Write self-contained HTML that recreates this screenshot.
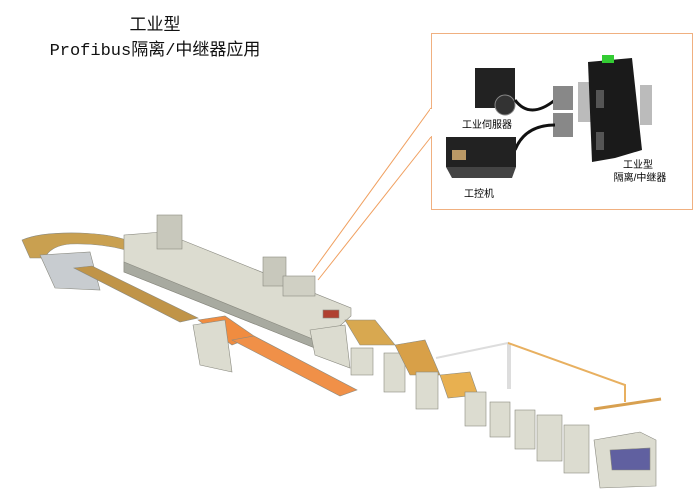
<!DOCTYPE html>
<html><head><meta charset="utf-8"><style>
body{margin:0;background:#fff;width:700px;height:495px;overflow:hidden;font-family:"Liberation Sans","Noto Sans CJK SC",sans-serif}
.t{position:absolute;font-size:17px;color:#111;text-align:center;font-family:"Liberation Mono","Noto Sans CJK SC",monospace}
</style></head><body>
<div class="t" style="left:95px;top:10px;width:120px;">工业型</div>
<div class="t" style="left:20px;top:35px;width:270px;">Profibus隔离/中继器应用</div>
<svg width="700" height="495" style="position:absolute;left:0;top:0">
<rect x="431.5" y="33.5" width="261" height="176" fill="none" stroke="#f0b080"/>
<line x1="431" y1="108" x2="312" y2="272" stroke="#f0a060"/>
<line x1="431" y1="137" x2="318" y2="280" stroke="#f0a060"/>
<rect x="430" y="109" width="3" height="27" fill="#fff"/>
<!-- inset devices -->
<rect x="578" y="82" width="14" height="40" fill="#bbb"/>
<rect x="640" y="85" width="12" height="40" fill="#bbb"/>
<polygon points="588,62 632,58 642,150 615,158 592,162" fill="#1a1a1a"/>
<rect x="602" y="55" width="12" height="8" fill="#3c3"/>
<rect x="596" y="90" width="8" height="18" fill="#555"/>
<rect x="596" y="132" width="8" height="18" fill="#555"/>
<rect x="475" y="68" width="40" height="40" fill="#222"/>
<circle cx="505" cy="105" r="10" fill="#333" stroke="#888"/>
<path d="M515,100 Q530,120 555,100" stroke="#111" stroke-width="3" fill="none"/>
<rect x="553" y="86" width="20" height="24" fill="#888"/>
<rect x="553" y="113" width="20" height="24" fill="#888"/>
<path d="M515,150 Q525,125 555,125" stroke="#111" stroke-width="3" fill="none"/>
<rect x="446" y="137" width="70" height="30" fill="#222"/>
<rect x="452" y="150" width="14" height="10" fill="#b96"/>
<polygon points="446,167 516,167 512,178 452,178" fill="#444"/>
<text x="487" y="128" font-size="10" text-anchor="middle" font-family="Liberation Sans,Noto Sans CJK SC,sans-serif">工业伺服器</text>
<text x="479" y="197" font-size="10" text-anchor="middle" font-family="Liberation Sans,Noto Sans CJK SC,sans-serif">工控机</text>
<text x="638" y="168" font-size="10" text-anchor="middle" font-family="Liberation Sans,Noto Sans CJK SC,sans-serif">工业型</text>
<text x="640" y="181" font-size="10" text-anchor="middle" font-family="Liberation Sans,Noto Sans CJK SC,sans-serif">隔离/中继器</text>
<!-- production line -->
<g stroke="#8a8a80" stroke-width="0.6" fill="#dcdcd0">
<path d="M22,240 Q40,232 80,233 Q110,234 126,240 L126,250 Q100,243 70,244 Q50,246 45,258 L30,258 Z" fill="#c9a050"/>
<polygon points="40,255 90,252 100,290 55,288" fill="#c8ccd0"/>
<polygon points="74,268 92,266 198,318 180,322" fill="#c09448"/>
<polygon points="124,235 162,232 351,308 351,316 315,348 124,272"/>
<polygon points="124,262 315,340 315,348 124,272" fill="#a8aaa0"/>
<rect x="157" y="215" width="25" height="34" fill="#c8c8bc"/>
<rect x="263" y="257" width="23" height="29" fill="#c8c8bc"/>
<rect x="283" y="276" width="32" height="20" fill="#d0d0c4"/>
<rect x="323" y="310" width="16" height="8" fill="#b04030"/>
<polygon points="198,320 225,316 254,336 232,345" fill="#f08c40"/>
<polygon points="232,340 254,336 357,390 340,396" fill="#f09048"/>
<polygon points="193,325 225,320 232,372 200,365"/>
<polygon points="310,330 345,325 350,368 315,355"/>
<polygon points="345,320 375,320 395,345 360,345" fill="#d8a850"/>
<rect x="351" y="348" width="22" height="27"/>
<rect x="384" y="353" width="21" height="39"/>
<polygon points="395,345 425,340 440,375 410,375" fill="#d8a048"/>
<rect x="416" y="372" width="22" height="37"/>
<polygon points="440,375 470,372 478,395 448,398" fill="#e8b050"/>
<rect x="465" y="392" width="21" height="34"/>
<rect x="490" y="402" width="20" height="35"/>
<rect x="515" y="410" width="20" height="39"/>
<rect x="537" y="415" width="25" height="46"/>
<rect x="564" y="425" width="25" height="48"/>
<polygon points="594,440 640,432 656,440 656,486 600,488" />
<polygon points="610,450 650,448 650,470 612,470" fill="#6060a0"/>
</g>
<path d="M436,358 L508,343 L508,389 M510,343 L510,389" stroke="#ddd" stroke-width="2" fill="none"/>
<path d="M508,343 L625,385 L625,402" stroke="#e8b060" stroke-width="2" fill="none"/>
<path d="M594,409 L661,399" stroke="#d8a050" stroke-width="3" fill="none"/>
</svg>
</body></html>
